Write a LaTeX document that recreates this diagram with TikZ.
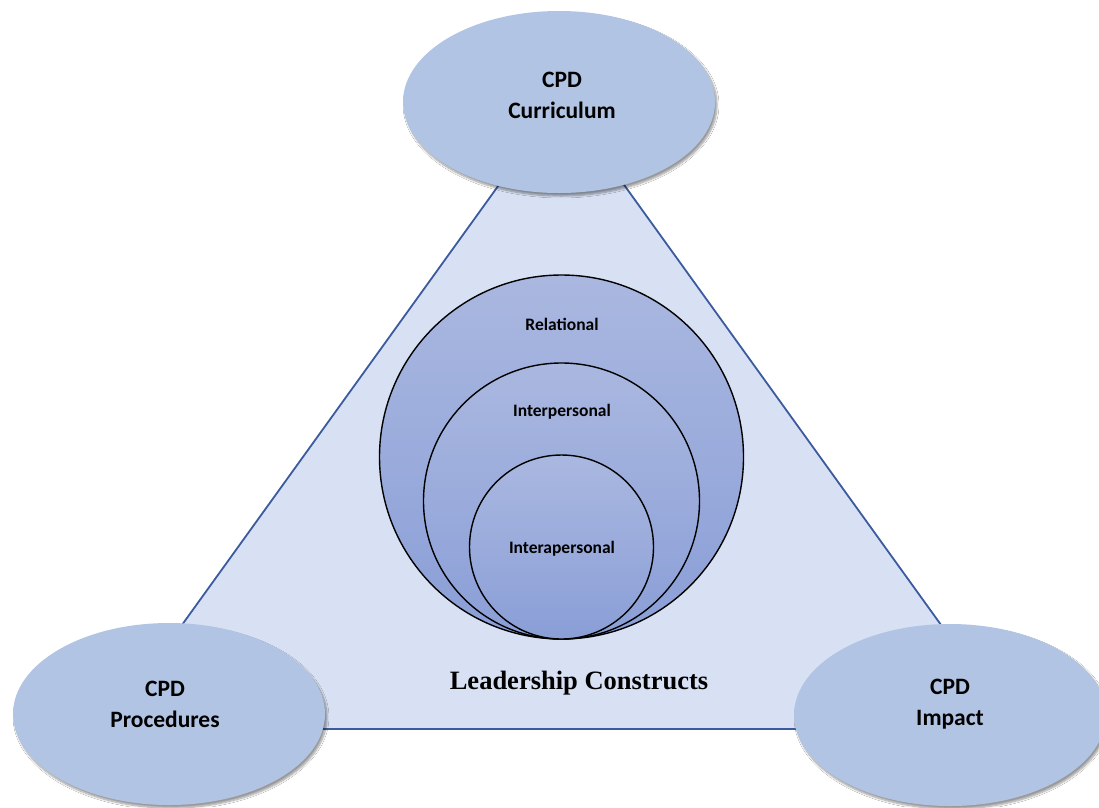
\documentclass[tikz,border=0pt]{standalone}
\usepackage{fontspec}
\setmainfont{Carlito}
\newfontfamily\timesfont{Liberation Serif}
\usetikzlibrary{shapes.geometric,shadows.blur}
\definecolor{ellfill}{HTML}{B1C4E3}
\definecolor{trifill}{HTML}{D8E1F3}
\definecolor{triline}{HTML}{3B5B9E}
\definecolor{circtop}{HTML}{AAB8E0}
\definecolor{circbot}{HTML}{8A9ED7}
\begin{document}
\begin{tikzpicture}[x=1pt,y=-1pt,
  cpd/.style={ellipse, fill=ellfill, minimum width=312pt, minimum height=182pt,
    inner sep=0pt,
    blur shadow={shadow xshift=2pt, shadow yshift=-3pt, shadow blur steps=8, shadow opacity=40}},
  cpdtext/.style={align=center, inner sep=0pt, font=\fontsize{23.5}{31}\selectfont\bfseries},
  ring/.style={circle, draw=black, line width=1.4pt, inner sep=0pt,
    top color=circtop, bottom color=circbot},
  ringlabel/.style={font=\fontsize{17.5}{20}\selectfont\bfseries}]
\useasboundingbox (0,0) rectangle (1099,807);
\fill[white] (0,0) rectangle (1099,807);
% triangle
\coordinate (apex) at (561.5,98);
\coordinate (bl) at (107,729);
\coordinate (br) at (1016,729);
\draw[triline, fill=trifill, line width=1.8pt, line join=miter] (apex) -- (bl) -- (br) -- cycle;
% nested circles
\node[ring, minimum size=364pt] (outer) at (561.5,457) {};
\node[ring, minimum size=276pt] (middle) at (561.5,501) {};
\node[ring, minimum size=184pt] (inner) at (561.5,547) {};
\node[ringlabel] (rel) at (562,324) {Relational};
\node[ringlabel] (inter) at (562,412) {Interpersonal};
\node[ringlabel] (intra) at (562,549) {Interapersonal};
\node[font=\timesfont\fontsize{26.5}{30}\selectfont\bfseries] (lc) at (579,683) {Leadership Constructs};
% ellipses
\node[cpd] (curr) at (559,102) {};
\node[cpd] (proc) at (169,714) {};
\node[cpd] (imp) at (950,715) {};
\node[cpdtext] (currt) at (562,95) {CPD\\Curriculum};
\node[cpdtext] (proct) at (165,704) {CPD\\Procedures};
\node[cpdtext] (impt) at (950,704) {CPD\\Impact};
\end{tikzpicture}
\end{document}
